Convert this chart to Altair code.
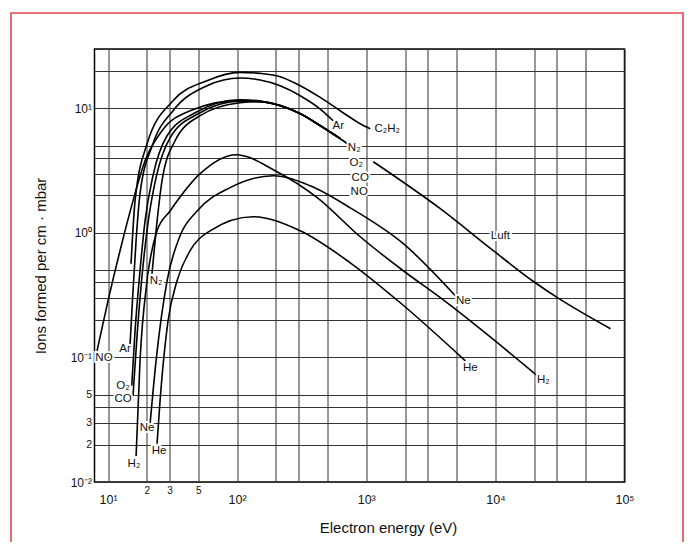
import altair as alt
import pandas as pd

# ---------------- data ----------------
# electron energy (eV) and ions formed per cm * mbar
C2H2_E = [15.08, 16.2, 20.06, 31.9, 58.5, 105.5, 150.8, 215.4, 307.8, 440, 628.6, 898, 1074]
C2H2_S = [0.566, 1.81, 5.2, 11.53, 16.69, 19.46, 19.1, 17.98, 15.22, 12.26, 9.58, 7.54, 6.87]

AR_E = [14.8, 15.62, 16.5, 17.7, 22.3, 31.9, 58.5, 105.5, 150.8, 215.4, 307.8, 440, 555]
AR_S = [0.124, 0.343, 0.866, 2.07, 5.2, 9.58, 15.22, 17.55, 16.9, 15.22, 12.65, 9.89, 7.96]

NO_E = [8.22, 10, 12.39, 15.62, 19.36, 26.2, 43.23, 105.5, 150.8, 215.4, 307.8, 440, 628.6]
NO_S = [0.113, 0.285, 0.72, 1.81, 3.8, 6.62, 9.58, 11.6, 11.4, 10.6, 9.1, 7.3, 5.75]

O2_E = [15.27, 16.2, 17.7, 19.36, 22.3, 28.67, 47.26, 105.5, 150.8, 215.4, 307.8, 440, 628.6]
O2_S = [0.0593, 0.164, 0.497, 1.25, 2.88, 6.03, 9.23, 11.75, 11.45, 10.55, 9.08, 7.27, 5.72]

CO_E = [15.62, 16.78, 18.35, 20.4, 23.56, 30.24, 49.86, 105.5, 150.8, 215.4, 307.8, 440, 628.6]
CO_S = [0.0493, 0.149, 0.453, 1.2, 2.78, 5.81, 9.06, 11.45, 11.3, 10.5, 9.06, 7.26, 5.71]

N2_E = [21.9, 23.56, 26.2, 33.07, 51.67, 105.5, 150.8, 215.4, 307.8, 440, 628.6, 751.6]
N2_S = [0.47, 1.04, 2.62, 5.5, 8.74, 11.11, 11.32, 10.51, 9.06, 7.26, 5.71, 5.02]

LUFT_E = [1133, 3746, 9650, 19360, 30240, 77920]
LUFT_S = [3.73, 1.565, 0.72, 0.413, 0.302, 0.17]

H2_E = [16.5, 17.7, 20.06, 23.98, 30.24, 51.67, 98.2, 197.1, 417, 898, 1936, 3746, 21170]
H2_S = [0.0162, 0.094, 0.413, 1.04, 1.5, 2.99, 4.25, 3.16, 1.92, 0.932, 0.497, 0.302, 0.0713]

NE_E = [21.17, 23.56, 28.67, 36.15, 48.98, 88.27, 190.2, 368, 751.6, 1936, 4898]
NE_S = [0.0293, 0.094, 0.413, 0.95, 1.5, 2.31, 2.88, 2.39, 1.59, 0.82, 0.313]

HE_E = [23.98, 25.3, 29.18, 34.27, 43.23, 61.76, 133, 307.8, 751.6, 1835, 5853]
HE_S = [0.0203, 0.0449, 0.197, 0.413, 0.72, 1.04, 1.35, 1.04, 0.576, 0.275, 0.094]

GASES = ["C2H2", "Ar", "NO", "O2", "CO", "N2", "Luft", "H2", "Ne", "He"]
SERIES = [(C2H2_E, C2H2_S), (AR_E, AR_S), (NO_E, NO_S), (O2_E, O2_S), (CO_E, CO_S),
          (N2_E, N2_S), (LUFT_E, LUFT_S), (H2_E, H2_S), (NE_E, NE_S), (HE_E, HE_S)]

# curve labels
LABEL_TEXT = ["NO", "Ar", "O₂", "CO", "Ne", "H₂", "He", "N₂",
              "Ar", "C₂H₂", "N₂", "O₂", "CO", "NO", "Luft", "Ne", "He", "H₂"]
LABEL_E = [9.31, 13.55, 13.07, 13.07, 20.06, 15.9, 24.85, 23.56,
           607, 1455, 807, 836.5, 898, 882, 10940, 5650, 6400, 23550]
LABEL_S = [0.0994, 0.1175, 0.0593, 0.0466, 0.0272, 0.014, 0.0178, 0.413,
           7.26, 6.87, 4.83, 3.66, 2.75, 2.14, 0.95, 0.285, 0.0827, 0.0662]

# grid / tick values
X_GRID = [10, 20, 30, 50, 100, 200, 300, 500, 1000, 2000, 3000, 5000,
          10000, 20000, 30000, 50000, 100000]
Y_GRID = [0.01, 0.02, 0.03, 0.04, 0.05, 0.1, 0.2, 0.3, 0.4, 0.5,
          1, 2, 3, 4, 5, 10, 20, 30]
X_DOMAIN = [7.86, 100000]
Y_DOMAIN = [0.01, 30]

X_LABELS = {10: "10¹", 20: "2", 30: "3", 50: "5", 100: "10²", 1000: "10³",
            10000: "10⁴", 100000: "10⁵"}
Y_LABELS = {10: "10¹", 1: "10⁰", 0.1: "10⁻¹", 0.05: "5", 0.03: "3", 0.02: "2", 0.01: "10⁻²"}

# ---------------- build tables ----------------
rows = []
for g, (es, ss) in zip(GASES, SERIES):
    for i, (e, s) in enumerate(zip(es, ss)):
        rows.append({"gas": g, "E": e, "S": s, "i": i})
df = pd.DataFrame(rows)
lab = pd.DataFrame({"t": LABEL_TEXT, "E": LABEL_E, "S": LABEL_S})


def label_expr(mapping):
    parts = [f"datum.value == {k} ? '{v}'" for k, v in mapping.items()]
    return " : ".join(parts) + " : ''"


FONT = "Liberation Sans"
xs = alt.Scale(type="log", domain=X_DOMAIN, nice=False)
ys = alt.Scale(type="log", domain=Y_DOMAIN, nice=False)

SMALL_X = "datum.value > 10 && datum.value < 100"
x_axis = alt.Axis(
    values=X_GRID, labelExpr=label_expr(X_LABELS), grid=True, ticks=False, domain=False,
    gridColor="#333333", gridWidth=1, labelOverlap=False, labelFlush=False,
    labelFont=FONT, labelColor="#111111",
    labelFontSize={"condition": {"test": SMALL_X, "value": 10}, "value": 12.5},
    labelPadding={"condition": {"test": SMALL_X, "value": 3}, "value": 11},
    title="Electron energy (eV)", titleFont=FONT, titleFontSize=15, titleFontWeight="normal",
    titleColor="#111111", titleX=293.5, titleY=45, titleAlign="center", titleBaseline="middle",
)
y_axis = alt.Axis(
    values=Y_GRID, labelExpr=label_expr(Y_LABELS), grid=True, ticks=False, domain=False,
    gridColor="#333333", gridWidth=1, labelOverlap=False, labelFlush=False,
    labelFont=FONT, labelColor="#111111",
    labelFontSize={"condition": {"test": "datum.value > 0.01 && datum.value < 0.1", "value": 10.5}, "value": 12},
    labelPadding=3,
    title="Ions formed per cm · mbar", titleFont=FONT, titleFontSize=15, titleFontWeight="normal",
    titleColor="#111111", titleX=-54.5, titleY=216.5, titleAlign="center", titleBaseline="middle",
    titleAngle=270,
)

X_ENC = alt.X("E:Q", scale=xs, axis=x_axis)
Y_ENC = alt.Y("S:Q", scale=ys, axis=y_axis)

lines = alt.Chart(df).mark_line(color="black", strokeWidth=1.6, interpolate="monotone").encode(
    x=X_ENC, y=Y_ENC, detail="gas:N", order="i:Q",
)

halo = alt.Chart(lab).mark_text(
    font=FONT, fontSize=11.5, fill="white", stroke="white", strokeWidth=4,
    align="center", baseline="middle",
).encode(x=X_ENC, y=Y_ENC, text="t:N")

texts = alt.Chart(lab).mark_text(
    font=FONT, fontSize=11.5, color="#111111", align="center", baseline="middle",
).encode(x=X_ENC, y=Y_ENC, text="t:N")

frame = alt.Chart(pd.DataFrame({"a": [0]})).mark_rect(
    fillOpacity=0, stroke="#e8434c", strokeWidth=1.6
).encode(x=alt.value(-83.5), x2=alt.value(588.5), y=alt.value(-36), y2=alt.value(620))

chart = alt.layer(lines, halo, texts, frame).properties(
    width=530, height=433,
    padding={"left": 86.5, "top": 41, "right": 59.5, "bottom": 60},
    autosize=alt.AutoSizeParams(type="none"),
    background="white",
).configure_view(stroke="black", strokeWidth=1.5)

chart.save("out.html", embed_options={"renderer": "svg", "actions": False})
